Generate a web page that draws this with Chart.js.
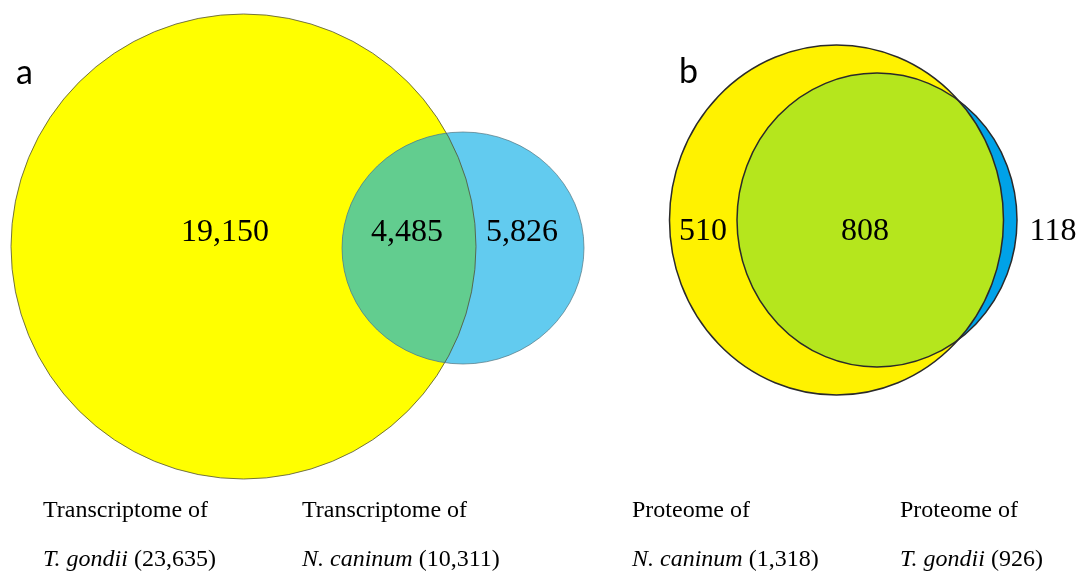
<!DOCTYPE html>
<html>
<head>
<meta charset="utf-8">
<title>Venn diagrams: transcriptome and proteome overlap</title>
<script src="https://cdn.jsdelivr.net/npm/chart.js@4.4.1/dist/chart.umd.min.js"></script>
<style>
  html, body { margin: 0; padding: 0; background: #ffffff; overflow: hidden; }
  #wrap { width: 1082px; height: 572px; }
</style>
</head>
<body>
<div id="wrap"><canvas id="venn" width="1082" height="572"></canvas></div>
<script>
// ---- Data -------------------------------------------------------------
const panelLetters = ['a', 'b'];
const setHeads    = ['Transcriptome of', 'Transcriptome of', 'Proteome of', 'Proteome of'];
const setSpecies  = ['T. gondii', 'N. caninum', 'N. caninum', 'T. gondii'];
const setTotals   = [23635, 10311, 1318, 926];
// panel a: T. gondii only, shared, N. caninum only
// panel b: N. caninum only, shared, T. gondii only
const regionCounts = [19150, 4485, 5826, 510, 808, 118];

// ---- Layout (in the units of the hidden x/y scales) --------------------
const sets = [
  { cx: 243.5, cy: 246.5, rx: 232.5, ry: 232.5 },  // a: transcriptome T. gondii
  { cx: 463,   cy: 248,   rx: 121,   ry: 116   },  // a: transcriptome N. caninum
  { cx: 836.5, cy: 220,   rx: 167,   ry: 175   },  // b: proteome N. caninum
  { cx: 877,   cy: 220,   rx: 140,   ry: 147   }   // b: proteome T. gondii
];
const regionAnchors = [
  { x: 225, y: 241 }, { x: 407, y: 241 }, { x: 522, y: 241 },
  { x: 703, y: 240 }, { x: 865, y: 240 }, { x: 1053, y: 240 }
];
const letterAnchors = [{ x: 16, y: 84 }, { x: 679, y: 83 }];
const captionAnchors = [
  { x: 43, y: 517 }, { x: 302, y: 517 }, { x: 632, y: 517 }, { x: 900, y: 517 }
];
const captionLineGap = 49;

const fmt = n => n.toLocaleString('en-US');

// Ellipse path built from a set's centre point and radii through the scales
function ellipsePath(ctx, chart, idx) {
  const xs = chart.scales.x, ys = chart.scales.y;
  const pt = chart.getDatasetMeta(idx).data[0];
  const s = sets[idx];
  const rx = Math.abs(xs.getPixelForValue(s.cx + s.rx) - pt.x);
  const ry = Math.abs(ys.getPixelForValue(s.cy + s.ry) - pt.y);
  ctx.beginPath();
  ctx.ellipse(pt.x, pt.y, rx, ry, 0, 0, Math.PI * 2);
}

const vennPlugin = {
  id: 'venn',
  beforeDatasetsDraw(chart) {
    const ctx = chart.ctx;
    ctx.save();

    // ----- panel a: transcriptomes -----
    ellipsePath(ctx, chart, 0); ctx.fillStyle = '#FFFF00'; ctx.fill();
    ellipsePath(ctx, chart, 1); ctx.fillStyle = '#62CBEF'; ctx.fill();
    ctx.save();
    ellipsePath(ctx, chart, 0); ctx.clip();
    ellipsePath(ctx, chart, 1); ctx.fillStyle = '#62CD8F'; ctx.fill();
    ctx.restore();
    ctx.lineWidth = 1;
    ctx.strokeStyle = 'rgba(80,80,60,0.8)';
    ellipsePath(ctx, chart, 0); ctx.stroke();
    ctx.strokeStyle = 'rgba(80,110,120,0.65)';
    ellipsePath(ctx, chart, 1); ctx.stroke();

    // ----- panel b: proteomes -----
    ellipsePath(ctx, chart, 3); ctx.fillStyle = '#00A2E8'; ctx.fill();
    ellipsePath(ctx, chart, 2); ctx.fillStyle = '#FFF200'; ctx.fill();
    ctx.save();
    ellipsePath(ctx, chart, 2); ctx.clip();
    ellipsePath(ctx, chart, 3); ctx.fillStyle = '#B5E61D'; ctx.fill();
    ctx.restore();
    ctx.lineWidth = 1.5;
    ctx.strokeStyle = '#2a2a2a';
    ellipsePath(ctx, chart, 2); ctx.stroke();
    ellipsePath(ctx, chart, 3); ctx.stroke();

    ctx.restore();
  },
  afterDatasetsDraw(chart) {
    const ctx = chart.ctx;
    const xs = chart.scales.x, ys = chart.scales.y;
    ctx.save();
    ctx.fillStyle = '#000000';
    ctx.textBaseline = 'alphabetic';

    // region counts
    ctx.font = '32px "Liberation Serif", "Times New Roman", serif';
    ctx.textAlign = 'center';
    regionCounts.forEach((v, i) => {
      const a = regionAnchors[i];
      ctx.fillText(fmt(v), xs.getPixelForValue(a.x), ys.getPixelForValue(a.y));
    });

    // panel letters
    ctx.font = '34px Lato, "Open Sans", sans-serif';
    ctx.textAlign = 'left';
    panelLetters.forEach((l, i) => {
      const a = letterAnchors[i];
      ctx.fillText(l, xs.getPixelForValue(a.x), ys.getPixelForValue(a.y));
    });

    // set captions: heading line, then italic species name + total
    const roman = '24px "Liberation Serif", "Times New Roman", serif';
    const italic = 'italic 24px "Liberation Serif", "Times New Roman", serif';
    setHeads.forEach((h, i) => {
      const a = captionAnchors[i];
      const x = xs.getPixelForValue(a.x);
      const y1 = ys.getPixelForValue(a.y);
      const y2 = ys.getPixelForValue(a.y + captionLineGap);
      ctx.font = roman;
      ctx.fillText(h, x, y1);
      ctx.font = italic;
      const sp = setSpecies[i];
      ctx.fillText(sp, x, y2);
      const w = ctx.measureText(sp).width;
      ctx.font = roman;
      ctx.fillText(' (' + fmt(setTotals[i]) + ')', x + w, y2);
    });
    ctx.restore();
  }
};

new Chart(document.getElementById('venn'), {
  type: 'scatter',
  data: {
    datasets: sets.map((s, i) => ({
      label: setHeads[i] + ' ' + setSpecies[i],
      data: [{ x: s.cx, y: s.cy }],
      pointRadius: 0,
      pointHoverRadius: 0
    }))
  },
  options: {
    responsive: false,
    animation: false,
    devicePixelRatio: 1,
    events: [],
    layout: { padding: 0 },
    plugins: { legend: { display: false }, tooltip: { enabled: false } },
    scales: {
      x: { type: 'linear', min: 0, max: 1082, display: false },
      y: { type: 'linear', min: 0, max: 572, reverse: true, display: false }
    }
  },
  plugins: [vennPlugin]
});
</script>
</body>
</html>
